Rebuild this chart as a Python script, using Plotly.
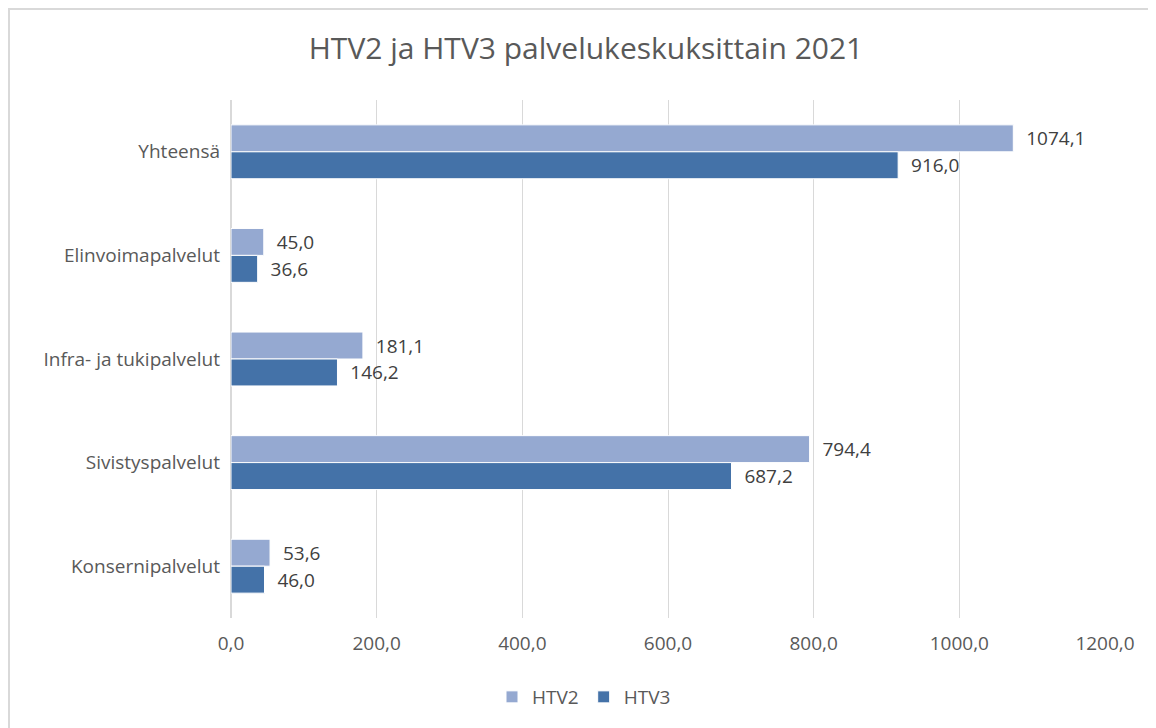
import plotly.graph_objects as go

# categories from top to bottom
categories = ["Yhteensä", "Elinvoimapalvelut", "Infra- ja tukipalvelut",
              "Sivistyspalvelut", "Konsernipalvelut"]
htv2 = [1074.1, 45.0, 181.1, 794.4, 53.6]
htv3 = [916.0, 36.6, 146.2, 687.2, 46.0]
x_ticks = [0, 200, 400, 600, 800, 1000, 1200]


def fi(v):
    # finnish decimal comma, small gap before the label
    return "\u00a0\u00a0" + f"{v:.1f}".replace(".", ",")


FONT = "Open Sans, Liberation Sans, sans-serif"

fig = go.Figure()
fig.add_trace(go.Bar(
    y=categories, x=htv2, name="HTV2", orientation="h",
    marker=dict(color="#95a9d1", line=dict(color="white", width=1)),
    text=[fi(v) for v in htv2], textposition="outside",
    textfont=dict(size=19, color="#404040", family=FONT),
    cliponaxis=False,
))
fig.add_trace(go.Bar(
    y=categories, x=htv3, name="HTV3", orientation="h",
    marker=dict(color="#4472a8", line=dict(color="white", width=1)),
    text=[fi(v) for v in htv3], textposition="outside",
    textfont=dict(size=19, color="#404040", family=FONT),
    cliponaxis=False,
))

# the page body adds an 8px margin, so the figure is 8px smaller
W, H = 1148, 720
L, R, T, B = 223, 51, 92, 110
pw, ph = W - L - R, H - T - B

fig.update_layout(
    width=W, height=H,
    margin=dict(l=L, r=R, t=T, b=B),
    paper_bgcolor="white", plot_bgcolor="white",
    barmode="group", bargap=0.48, bargroupgap=0,
    separators=", ",
    font=dict(family=FONT, color="#595959", size=19),
    title=dict(text="HTV2 ja HTV3 palvelukeskuksittain 2021",
               x=(586 - 8) / W, xanchor="center", y=1 - 40 / H, yanchor="middle",
               font=dict(size=30, color="#595959", family=FONT)),
    legend=dict(orientation="h", x=(584 - 8 - L) / pw, xanchor="center",
                y=-(689 - (H - B)) / ph, yanchor="middle",
                font=dict(size=19, color="#595959"), itemwidth=30),
    xaxis=dict(range=[0, 1200], tickvals=x_ticks, tickformat=".1f",
               showgrid=True, gridcolor="#d9d9d9", gridwidth=1,
               zeroline=True, zerolinecolor="#d9d9d9", zerolinewidth=2,
               showline=False, ticks="", ticklabelstandoff=12,
               tickfont=dict(size=19, color="#595959")),
    yaxis=dict(autorange="reversed", showgrid=False, showline=False,
               ticks="", ticklabelstandoff=10,
               tickfont=dict(size=19, color="#595959")),
    shapes=[
        dict(type="line", xref="paper", yref="paper",
             x0=-L / pw, x1=(W - L) / pw,
             y0=1 + (T - 1) / ph, y1=1 + (T - 1) / ph,
             line=dict(color="#d9d9d9", width=2)),
        dict(type="line", xref="paper", yref="paper",
             x0=(1 - L) / pw, x1=(1 - L) / pw,
             y0=1 + (T - 1) / ph, y1=-B / ph,
             line=dict(color="#d9d9d9", width=2)),
    ],
)

fig.write_html("out.html")
